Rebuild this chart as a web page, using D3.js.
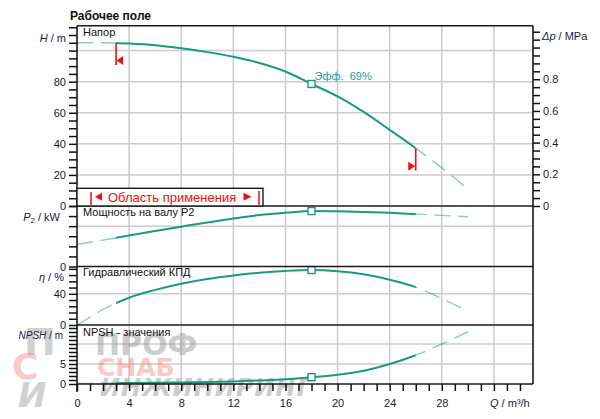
<!DOCTYPE html>
<html><head><meta charset="utf-8">
<script src="https://cdn.jsdelivr.net/npm/d3@7"></script>
<style>
body{margin:0;background:#fff}
svg{display:block;font-family:"Liberation Sans",Arial,sans-serif}
</style>
</head><body>
<svg id="c" width="600" height="419"></svg>
<script>
// ---------- data ----------
const flowQ   = [0,1,2,3,4,6,8,10,12,14,16,18,20,22,24,26,28,30];
const headH   = [105,105,105,104.8,104.5,103.5,101.5,99,96,92,86.5,78.5,70.5,60.5,49,37.2,24.5,11];
const powerP2 = [2.2,2.4,2.62,2.85,3.08,3.52,3.95,4.37,4.75,5.1,5.33,5.5,5.47,5.41,5.32,5.2,5.07,4.93];
const effEta  = [0,10,20,28,35,45,53,59,63.5,67,69.3,70.5,69,65,58,48.5,34,17.5];
const npshR   = [0.15,0.15,0.2,0.2,0.25,0.3,0.4,0.5,0.65,0.9,1.2,1.7,2.3,3.3,5.0,7.2,10,13];
const qTickLabels    = [0,4,8,12,16,20,24,28];
const headTickLabels = [0,20,40,60,80];
const dpTickLabels   = [0,0.2,0.4,0.6,0.8];
const p2TickLabels   = [0];
const etaTickLabels  = [0,40];
const npshTickLabels = [0,5];
const rangeStart = 3, rangeEnd = 26, dutyQ = 18;
const effText = "Эфф.  69%";

// ---------- layout ----------
const svg = d3.select("#c");
const L = 77, R = 533;
const teal = "#1c9a80";
const x = d3.scaleLinear([0,35],[L,R]);
const yH   = d3.scaleLinear([0,116],[206,25.7]);
const yDp  = d3.scaleLinear([0,116*0.00981],[206,25.7]);
const yP   = d3.scaleLinear([0,6],[266.5,206]);
const yEta = d3.scaleLinear([0,75],[325,266.5]);
const yN   = d3.scaleLinear([0,14.75],[384,325]);

const panels = [
  {y:yH,  grid:[20,40,60,80,100], vals:headH,  title:"Напор", tY:36, ticks:d3.range(0,116,5), labels:headTickLabels},
  {y:yP,  grid:[4],  vals:powerP2, title:"Мощность на валу P2", tY:216, ticks:d3.range(0,6.01,1), labels:p2TickLabels},
  {y:yEta,grid:[40], vals:effEta,  title:"Гидравлический КПД", tY:276, ticks:d3.range(0,75,8), labels:etaTickLabels},
  {y:yN,  grid:[5,10], vals:npshR, title:"NPSH - значения", tY:336, ticks:d3.range(0,14.5,1), labels:npshTickLabels}
];

// grid
const g = svg.append("g");
panels.forEach(p=>{
  g.selectAll(null).data(p.grid).enter().append("line")
   .attr("x1",L).attr("x2",R).attr("y1",d=>p.y(d)).attr("y2",d=>p.y(d))
   .attr("stroke","#cccccc").attr("stroke-width",1.5);
});
g.selectAll(null).data(d3.range(4,35,4)).enter().append("line")
  .attr("x1",d=>x(d)).attr("x2",d=>x(d)).attr("y1",25.7).attr("y2",384)
  .attr("stroke","#cccccc").attr("stroke-width",1.5);

// watermark (under the chart content)
const wm = svg.append("g").attr("font-family","DejaVu Sans, sans-serif").attr("font-weight","bold");
wm.append("text").attr("x",95).attr("y",355).attr("font-size",30).attr("fill","#9a9a9a").attr("opacity",0.5).text("ПРОФ");
wm.append("text").attr("x",97).attr("y",376).attr("font-size",25).attr("fill","#ee6666").attr("opacity",0.35).text("СНАБ");
wm.append("text").attr("x",100).attr("y",396).attr("font-size",24).attr("font-style","italic").attr("fill","#9a9a9a").attr("opacity",0.5)
  .attr("textLength",212).text("ИНЖИНИРИНГ");
wm.append("text").attr("x",24).attr("y",355).attr("font-size",38).attr("fill","#9a9a9a").attr("opacity",0.45).text("П");
wm.append("text").attr("x",12).attr("y",379).attr("font-size",36).attr("fill","#ee6666").attr("opacity",0.35).text("С");
wm.append("text").attr("x",18).attr("y",407).attr("font-size",34).attr("font-style","italic").attr("fill","#9a9a9a").attr("opacity",0.45).text("И");

// clip paths
const defs = svg.append("defs");
defs.append("clipPath").attr("id","solid").append("rect")
  .attr("x",x(rangeStart)).attr("y",0).attr("width",x(rangeEnd)-x(rangeStart)).attr("height",419);
const dc = defs.append("clipPath").attr("id","dash");
dc.append("rect").attr("x",0).attr("y",0).attr("width",x(rangeStart)).attr("height",419);
dc.append("rect").attr("x",x(rangeEnd)).attr("y",0).attr("width",600-x(rangeEnd)).attr("height",419);

// curves
panels.forEach(p=>{
  const pts = flowQ.map((q,i)=>({q, v:p.vals[i]}));
  const line = d3.line().x(d=>x(d.q)).y(d=>p.y(d.v)).curve(d3.curveMonotoneX);
  svg.append("path").attr("d",line(pts)).attr("fill","none").attr("stroke",teal)
    .attr("stroke-opacity",0.5).attr("stroke-width",1.4).attr("stroke-dasharray","16,8")
    .attr("clip-path","url(#dash)");
  svg.append("path").attr("d",line(pts)).attr("fill","none").attr("stroke",teal)
    .attr("stroke-width",2).attr("clip-path","url(#solid)");
  const i = flowQ.indexOf(dutyQ);
  svg.append("rect").attr("x",x(dutyQ)-3.5).attr("y",p.y(p.vals[i])-3.5)
    .attr("width",7).attr("height",7).attr("fill","#fff").attr("stroke",teal).attr("stroke-width",1.4);
  svg.append("text").attr("x",83).attr("y",p.tY).attr("font-size",11).attr("fill","#111").text(p.title);
});

// panel frames
const frame = svg.append("g").attr("stroke","#1a1a1a").attr("stroke-width",1.6);
frame.append("line").attr("x1",L).attr("x2",R).attr("y1",25.7).attr("y2",25.7);
[206,266.5,325,384].forEach(v=>frame.append("line").attr("x1",L).attr("x2",R).attr("y1",v).attr("y2",v));
frame.append("line").attr("x1",R).attr("x2",R).attr("y1",25.7).attr("y2",384);
frame.append("line").attr("x1",L).attr("x2",L).attr("y1",25.7).attr("y2",392);

// application range markers
const hAt = q => headH[flowQ.indexOf(q)];
const red = "#ee1111";
svg.append("line").attr("x1",x(rangeStart)).attr("x2",x(rangeStart)).attr("y1",yH(hAt(rangeStart))).attr("y2",yH(hAt(rangeStart))+22)
  .attr("stroke",red).attr("stroke-width",1.6);
svg.append("path").attr("fill",red)
  .attr("d",`M${x(rangeStart)+0.5},${yH(hAt(rangeStart))+17.5} l6.5,-4.5 v9 z`);
svg.append("line").attr("x1",x(rangeEnd)).attr("x2",x(rangeEnd)).attr("y1",yH(hAt(rangeEnd))).attr("y2",yH(hAt(rangeEnd))+22.5)
  .attr("stroke",red).attr("stroke-width",1.6);
svg.append("path").attr("fill",red)
  .attr("d",`M${x(rangeEnd)-0.5},${yH(hAt(rangeEnd))+18} l-7,-4.5 v9 z`);

// efficiency label
svg.append("text").attr("x",x(dutyQ)+3).attr("y",yH(hAt(dutyQ))-3.5).attr("font-size",11)
  .attr("fill","#2a9d86").attr("xml:space","preserve").style("white-space","pre").text(effText);

// area box
const box = svg.append("g");
box.append("rect").attr("x",L).attr("y",188.3).attr("width",186).attr("height",17.7)
  .attr("fill","#fff").attr("stroke","#1a1a1a").attr("stroke-width",1.4);
box.append("line").attr("x1",91).attr("x2",91).attr("y1",192).attr("y2",205).attr("stroke",red).attr("stroke-width",1.5);
box.append("path").attr("fill",red).attr("d","M95,196.7 l7,-4 v8 z");
box.append("text").attr("x",108).attr("y",201.5).attr("font-size",13).attr("fill",red).text("Область применения");
box.append("path").attr("fill",red).attr("d","M251.5,196.7 l-8,-4 v8 z");
box.append("line").attr("x1",259).attr("x2",259).attr("y1",191).attr("y2",205).attr("stroke",red).attr("stroke-width",1.5);

// axes
function styleAxis(sel){
  sel.select(".domain").remove();
  sel.selectAll(".tick line").attr("stroke","#111").attr("stroke-width",1.5);
  sel.selectAll(".tick text").attr("fill","#1a1a2a").attr("font-size",11)
     .attr("font-family","Liberation Sans, Arial, sans-serif");
}
panels.forEach(p=>{
  const ax = svg.append("g").attr("transform",`translate(${L},0)`)
    .call(d3.axisLeft(p.y).tickValues(p.ticks).tickSize(8).tickPadding(3)
      .tickFormat(d=>p.labels.includes(Math.round(d*100)/100)?d3.format("d")(d):""));
  styleAxis(ax);
});
const axR = svg.append("g").attr("transform",`translate(${R},0)`)
  .call(d3.axisRight(yDp).tickValues(d3.range(0,1.12,0.05)).tickSize(7).tickPadding(3)
    .tickFormat(d=>dpTickLabels.some(v=>Math.abs(v-d)<1e-6)?(d===0?"0":d3.format(".1f")(d)):""));
styleAxis(axR);
const axB = svg.append("g").attr("transform",`translate(0,384)`)
  .call(d3.axisBottom(x).tickValues(d3.range(0,35,1)).tickSize(7).tickPadding(8)
    .tickFormat(d=>qTickLabels.includes(d)?String(d):""));
styleAxis(axB);

// axis titles
function title(xp,yp,anchor,parts,size){
  const t = svg.append("text").attr("x",xp).attr("y",yp).attr("text-anchor",anchor)
    .attr("font-size",size||11).attr("fill","#1a1a40");
  parts.forEach(pt=>{
    const s = t.append("tspan").text(pt.t);
    if(pt.i) s.attr("font-style","italic");
    if(pt.sub) s.attr("font-size",8).attr("dy",2);
    if(pt.up) s.attr("dy",-2);
  });
}
title(66,42,"end",[{t:"H",i:1},{t:" / m"}]);
title(542,40,"start",[{t:"Δp",i:1},{t:" / MPa"}]);
title(60,221,"end",[{t:"P",i:1},{t:"2",sub:1},{t:" / kW",up:1}]);
title(64,281,"end",[{t:"η",i:1},{t:" / %"}]);
title(63,339,"end",[{t:"NPSH",i:1},{t:" / m"}],10);
title(490,406.5,"start",[{t:"Q",i:1},{t:" / m³/h"}]);
svg.append("text").attr("x",70).attr("y",20).attr("font-size",12).attr("font-weight","bold")
  .attr("fill","#111").text("Рабочее поле");
</script>
</body></html>
